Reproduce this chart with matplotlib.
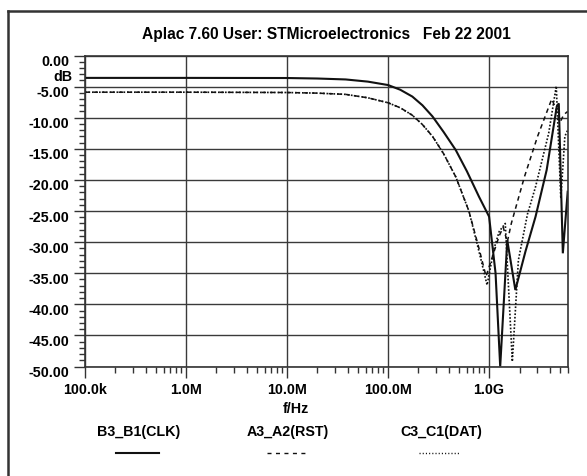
import numpy as np
import matplotlib
matplotlib.use("Agg")
import matplotlib.pyplot as plt
from matplotlib.lines import Line2D
from matplotlib.ticker import FixedLocator, LogLocator, MultipleLocator, NullFormatter
from matplotlib.transforms import ScaledTranslation

plt.rcParams['font.family'] = ['Liberation Sans', 'DejaVu Sans']
plt.rcParams['font.weight'] = 'bold'

# values (log10 of frequency in Hz, gain in dB)
clk_logf = [5.0, 6.0, 7.0, 7.3, 7.58, 7.8, 8.0, 8.12, 8.24, 8.34, 8.44, 8.55, 8.67,
            8.78, 8.90, 9.0, 9.064, 9.11, 9.18, 9.26, 9.36, 9.46, 9.57, 9.67, 9.69,
            9.73, 9.778]
clk_db = [-3.6, -3.6, -3.62, -3.7, -3.85, -4.2, -4.75, -5.5, -6.6, -8.0, -9.8, -12.3,
          -15.2, -18.6, -22.7, -25.9, -35.0, -50.0, -29.7, -37.7, -31.5, -25.9, -18.4,
          -8.2, -7.7, -31.8, -21.9]

rst_logf = [5.0, 6.0, 7.0, 7.3, 7.58, 7.8, 8.0, 8.12, 8.24, 8.34, 8.44, 8.55, 8.67,
            8.80, 8.90, 8.97, 9.03, 9.10, 9.14, 9.18, 9.22, 9.35, 9.48, 9.62, 9.66,
            9.70, 9.74, 9.778]
rst_db = [-5.9, -5.9, -5.95, -6.05, -6.25, -6.8, -7.6, -8.4, -9.6, -11.1, -13.0, -15.8,
          -19.5, -25.0, -31.0, -35.5, -32.5, -29.0, -27.6, -30.0, -27.0, -19.5, -13.0,
          -7.0, -8.5, -10.8, -9.5, -9.0]

dat_logf = [5.0, 6.0, 7.0, 7.3, 7.58, 7.8, 8.0, 8.12, 8.24, 8.34, 8.44, 8.55, 8.67,
            8.80, 8.90, 8.98, 9.05, 9.10, 9.16, 9.23, 9.29, 9.38, 9.46, 9.59, 9.665,
            9.71, 9.75, 9.778]
dat_db = [-5.9, -5.9, -5.95, -6.05, -6.25, -6.8, -7.6, -8.4, -9.6, -11.1, -13.0, -15.8,
          -19.5, -25.0, -31.5, -36.9, -31.0, -28.3, -27.0, -49.2, -32.9, -25.5, -21.1,
          -12.5, -4.9, -23.0, -13.0, -12.0]

series_names = ['B3_B1(CLK)', 'A3_A2(RST)', 'C3_C1(DAT)']
xtick_freqs = [1e5, 1e6, 1e7, 1e8, 1e9]
xtick_labels = ['100.0k', '1.0M', '10.0M', '100.0M', '1.0G']
ytick_vals = [0, -5, -10, -15, -20, -25, -30, -35, -40, -45, -50]

W, H = 587, 476
fig = plt.figure(figsize=(W / 100, H / 100), dpi=100)


def px(x, y):
    # pixel position -> figure fraction
    return x / W, 1 - y / H


ax = fig.add_axes([85 / W, (H - 366.5) / H, (567.7 - 85) / W, (366.5 - 55.5) / H])

ink = '#111111'
ax.plot(10 ** np.array(clk_logf), clk_db, color=ink, lw=1.5, solid_joinstyle='miter')
ax.plot(10 ** np.array(rst_logf), rst_db, color=ink, lw=1.1, linestyle=(0, (3, 2.5)))
ax.plot(10 ** np.array(dat_logf), dat_db, color=ink, lw=1.2, linestyle=(0, (1, 1.1)))

ax.set_xscale('log')
ax.set_xlim(1e5, 6e9)
ax.set_ylim(-50, 0)

ax.xaxis.set_major_locator(FixedLocator(xtick_freqs))
ax.set_xticklabels(xtick_labels)
ax.xaxis.set_minor_locator(LogLocator(base=10, subs=np.arange(2, 10)))
ax.xaxis.set_minor_formatter(NullFormatter())
ax.yaxis.set_major_locator(FixedLocator(ytick_vals))
ax.set_yticklabels([f'{v:.2f}' for v in ytick_vals])
ax.yaxis.set_minor_locator(MultipleLocator(1))

ax.tick_params(which='major', length=8, width=1, color='#333333', labelsize=10.3, pad=4)
ax.tick_params(which='minor', length=4, width=1, color='#333333')
ax.tick_params(axis='y', pad=3.5)

ax.grid(True, which='major', color='#3a3a3a', lw=1.0)
ax.set_axisbelow(True)
for s in ax.spines.values():
    s.set_color('#333333')
    s.set_linewidth(1.2)

# y tick labels sit a little below their ticks in the original
shift = ScaledTranslation(0, -5 / 100, fig.dpi_scale_trans)
for t in ax.yaxis.get_major_ticks():
    t.label1.set_transform(t.label1.get_transform() + shift)

fig.text(*px(326, 35), 'Aplac 7.60 User: STMicroelectronics   Feb 22 2001',
         ha='center', va='center', fontsize=11.2, fontweight='bold')
fig.text(*px(73, 77), 'dB', ha='right', va='center', fontsize=10.3, fontweight='bold')
fig.text(*px(296, 409), 'f/Hz', ha='center', va='center', fontsize=10.3, fontweight='bold')

# legend below the plot
leg_x = [(116, 159), (267, 305), (419, 460)]
leg_label_x = [139, 288, 441]
leg_styles = [dict(lw=1.5, linestyle='-'),
              dict(lw=1.0, linestyle=(0, (2.9, 3.2))),
              dict(lw=1.0, linestyle=(0, (0.8, 1.5)))]
for name, (x0, x1), lx, st in zip(series_names, leg_x, leg_label_x, leg_styles):
    fig.text(*px(lx, 432), name, ha='center', va='center', fontsize=10.3, fontweight='bold')
    a, b = px(x0, 453)
    c, d = px(x1, 453)
    fig.add_artist(Line2D([a, c], [b, d], color=ink, **st))

# outer frame (left and top edges)
fx0, fy0 = px(8, 11)
fig.add_artist(Line2D([fx0, fx0], [0, fy0], color='#333333', lw=1.8))
fig.add_artist(Line2D([fx0, 1], [fy0, fy0], color='#333333', lw=1.8))

fig.savefig('out.png', dpi=100)
